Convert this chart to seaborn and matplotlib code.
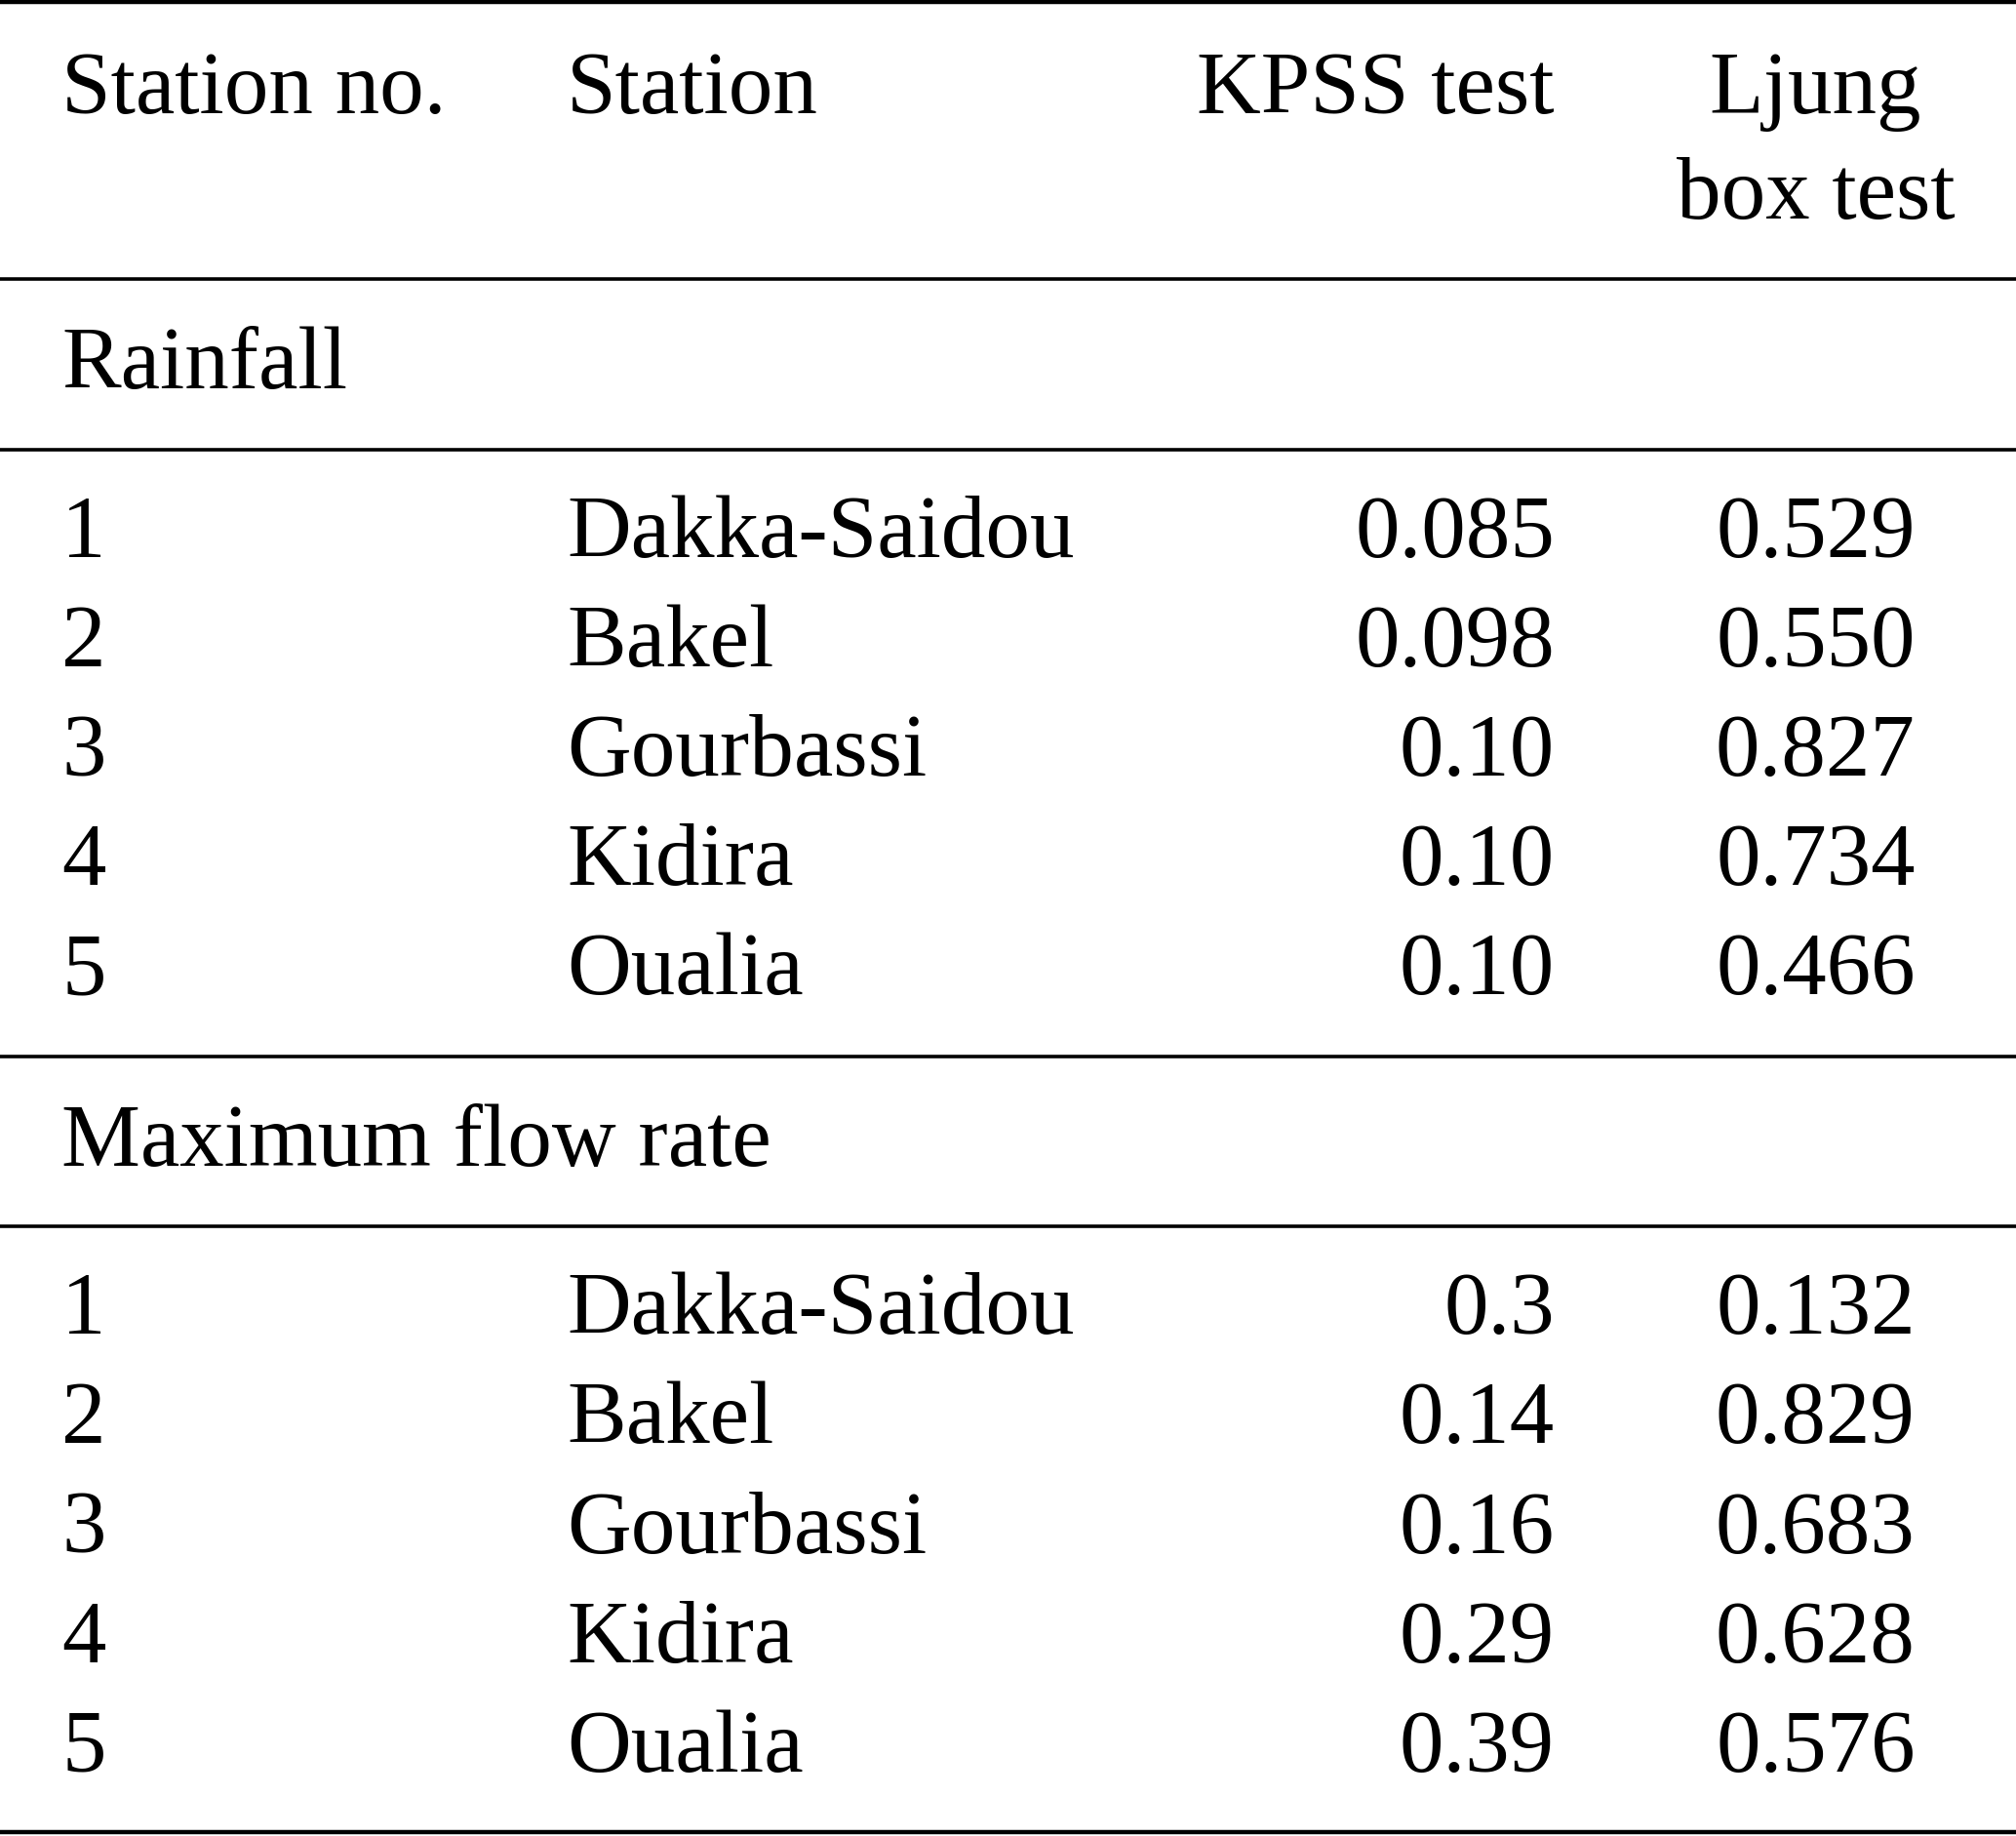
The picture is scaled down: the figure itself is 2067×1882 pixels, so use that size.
import matplotlib
matplotlib.use("Agg")
import matplotlib.pyplot as plt
import seaborn as sns

# table content
HEADERS = ["Station no.", "Station", "KPSS test", "Ljung\nbox test"]
GROUPS = ["Rainfall", "Maximum flow rate"]
STATION_NO = ["1", "2", "3", "4", "5"]
STATIONS = ["Dakka-Saidou", "Bakel", "Gourbassi", "Kidira", "Oualia"]
RAIN_KPSS = ["0.085", "0.098", "0.10", "0.10", "0.10"]
RAIN_LJUNG = ["0.529", "0.550", "0.827", "0.734", "0.466"]
FLOW_KPSS = ["0.3", "0.14", "0.16", "0.29", "0.39"]
FLOW_LJUNG = ["0.132", "0.829", "0.683", "0.628", "0.576"]

sns.set_theme(style="white")
plt.rcParams["font.family"] = ["Liberation Serif", "DejaVu Serif"]

W, H = 1568, 1428          # layout units (image px at reference scale)
FS = 65.5
COL_X = [48, 441, 1209, 1412]
COL_HA = ["left", "left", "right", "center"]
LW = 2.6

fig = plt.figure(figsize=(20.67, 18.83), dpi=100)
ax = fig.add_axes([0, 0, 1, 1])
ax.set_xlim(0, W)
ax.set_ylim(H, 0)
ax.axis("off")


def rule(y, lw=LW):
    ax.axhline(y, color="black", lw=lw)


def put(x, y, s, ha="left"):
    ax.text(x, y, s, ha=ha, va="baseline", fontsize=FS, color="black")


# header
rule(2, LW + 0.6)
for x, ha, h in zip(COL_X, COL_HA, HEADERS):
    for k, part in enumerate(h.split("\n")):
        put(x, 88 + k * 82, part, ha=ha)
rule(218)

ROW_STEP = 85
group_data = [(RAIN_KPSS, RAIN_LJUNG), (FLOW_KPSS, FLOW_LJUNG)]
group_top = 218
for gi, (gname, (kpss, ljung)) in enumerate(zip(GROUPS, group_data)):
    put(COL_X[0], group_top + 84, gname)
    rule(group_top + 132)
    base = group_top + 215
    for i, (no, st, k, l) in enumerate(zip(STATION_NO, STATIONS, kpss, ljung)):
        y = base + i * ROW_STEP
        for x, ha, s in zip(COL_X, COL_HA, [no, st, k, l]):
            put(x, y, s, ha=ha)
    group_top = base + (len(STATIONS) - 1) * ROW_STEP + 49
    rule(group_top if gi == 0 else H - 3, LW if gi == 0 else LW + 0.6)

fig.savefig("out.png", dpi=100, facecolor="white")
